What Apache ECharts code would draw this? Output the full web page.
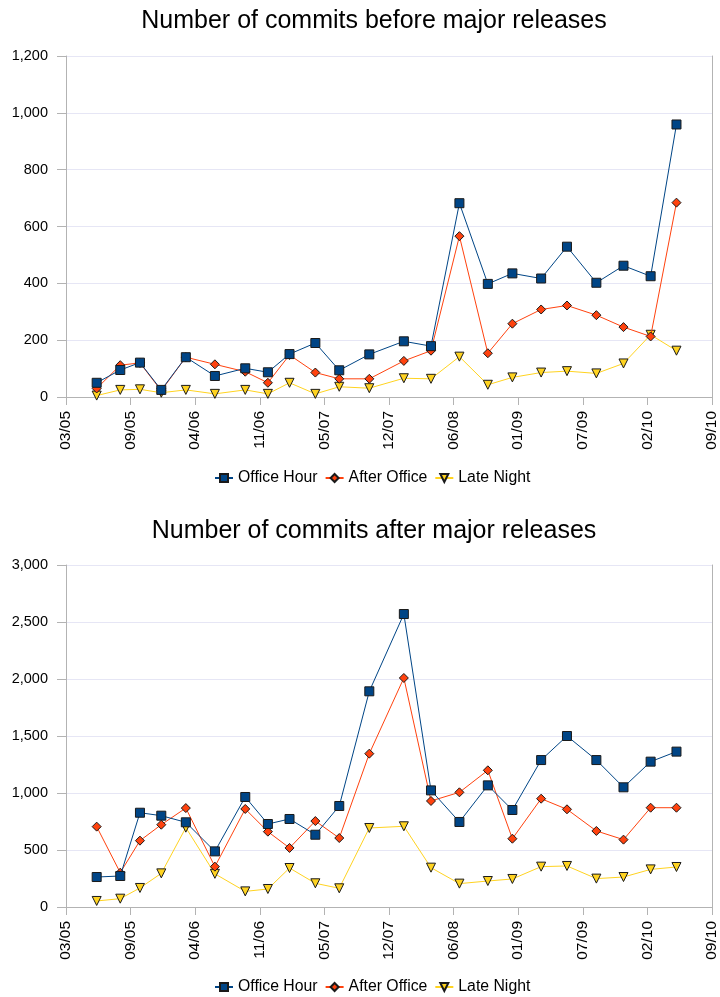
<!DOCTYPE html>
<html>
<head>
<meta charset="utf-8">
<script src="https://cdn.jsdelivr.net/npm/echarts@6/dist/echarts.min.js"></script>
<style>
  html, body { margin: 0; padding: 0; background: #fff; }
  #chart { width: 720px; height: 997px; }
</style>
</head>
<body>
<div id="chart"></div>
<script>
// Release dates (x positions) shared by both panels
const releaseDates = [
  '2005-06-15', '2005-08-27', '2005-10-27', '2006-01-01', '2006-03-18',
  '2006-06-16', '2006-09-18', '2006-11-27', '2007-02-02', '2007-04-23',
  '2007-07-06', '2007-10-07', '2008-01-22', '2008-04-15', '2008-07-12',
  '2008-10-08', '2008-12-23', '2009-03-22', '2009-06-10', '2009-09-09',
  '2009-12-02', '2010-02-24', '2010-05-15'
];

// Date axis: start day, tick step (days) and tick labels
const axisStart = '2005-03-12';
const tickStepDays = 200;
const xTickLabels = ['03/05', '09/05', '04/06', '11/06', '05/07', '12/07',
                     '06/08', '01/09', '07/09', '02/10', '09/10'];

// Commits before major releases
const beforeOffice = [50, 95, 121, 25, 140, 74, 101, 87, 151, 190, 94, 150,
                      196, 179, 682, 398, 435, 417, 529, 402, 462, 425, 959];
const beforeAfter  = [30, 112, 120, 22, 140, 115, 89, 50, 148, 86, 64, 64,
                      127, 163, 566, 154, 258, 308, 322, 288, 246, 213, 684];
const beforeNight  = [5, 25, 27, 15, 25, 11, 25, 11, 50, 11, 36, 31,
                      66, 64, 142, 43, 69, 86, 91, 83, 118, 219, 163];

// Commits after major releases
const afterOffice = [263, 272, 827, 801, 743, 488, 965, 728, 772, 634, 886, 1892,
                     2570, 1023, 746, 1067, 851, 1289, 1500, 1289, 1050, 1275, 1363];
const afterAfter  = [705, 301, 582, 722, 868, 354, 860, 661, 518, 754, 605, 1345,
                     2009, 930, 1006, 1199, 599, 950, 857, 667, 591, 871, 871];
const afterNight  = [53, 73, 167, 295, 696, 291, 137, 158, 342, 208, 164, 693,
                     708, 345, 205, 228, 246, 354, 360, 249, 263, 330, 351];

const seriesNames = ['Office Hour', 'After Office', 'Late Night'];
const seriesColors = ['#004586', '#ff420e', '#ffd320'];

const DAY = 86400000;
const startMs = Date.parse(axisStart + 'T00:00:00Z');
const xDays = releaseDates.map(d => (Date.parse(d + 'T00:00:00Z') - startMs) / DAY);
const xMax = tickStepDays * (xTickLabels.length - 1);

const FONT = '"Liberation Sans", Arial, sans-serif';
const AXIS_GREY = '#b3b3b3';
const GRID_LINE = '#e6e6f5';

const symbols = [
  { symbol: 'rect', symbolSize: 9, symbolRotate: 0 },
  { symbol: 'diamond', symbolSize: 9, symbolRotate: 0 },
  { symbol: 'triangle', symbolSize: 9, symbolRotate: 180 }
];

function makeSeries(values, idx, gridIdx) {
  return {
    name: seriesNames[idx],
    type: 'line',
    xAxisIndex: gridIdx,
    yAxisIndex: gridIdx * 2,
    data: values.map((v, i) => [xDays[i], v]),
    symbol: symbols[idx].symbol,
    symbolSize: symbols[idx].symbolSize,
    symbolRotate: symbols[idx].symbolRotate,
    showAllSymbol: true,
    lineStyle: { color: seriesColors[idx], width: 1 },
    itemStyle: { color: seriesColors[idx], borderColor: '#1a1a1a', borderWidth: 1 },
    emphasis: { disabled: true },
    z: 10 - idx,
    animation: false
  };
}

function xAxisFor(gridIdx) {
  return {
    type: 'value',
    gridIndex: gridIdx,
    min: 0,
    max: xMax,
    interval: tickStepDays,
    axisLine: { show: true, lineStyle: { color: AXIS_GREY, width: 1 } },
    axisTick: { show: true, length: 8, lineStyle: { color: AXIS_GREY } },
    splitLine: { show: false },
    axisLabel: {
      rotate: 90,
      margin: 14,
      color: '#000',
      fontFamily: FONT,
      fontSize: 15.5,
      formatter: v => xTickLabels[Math.round(v / tickStepDays)]
    }
  };
}

function yAxesFor(gridIdx, max, interval) {
  return [{
    type: 'value',
    gridIndex: gridIdx,
    min: 0,
    max: max,
    interval: interval,
    axisLine: { show: true, lineStyle: { color: AXIS_GREY, width: 1 } },
    axisTick: { show: true, length: 9, lineStyle: { color: AXIS_GREY } },
    splitLine: { show: true, lineStyle: { color: GRID_LINE, width: 1 } },
    axisLabel: {
      margin: 18,
      color: '#000',
      fontFamily: FONT,
      fontSize: 14.5,
      formatter: v => v.toLocaleString('en-US')
    }
  }, {
    type: 'value',
    gridIndex: gridIdx,
    position: 'right',
    min: 0,
    max: max,
    interval: interval,
    axisLine: { show: true, lineStyle: { color: AXIS_GREY, width: 1 } },
    axisTick: { show: false },
    axisLabel: { show: false },
    splitLine: { show: false }
  }];
}

const legendBase = {
  left: 214,
  itemWidth: 18,
  itemHeight: 10,
  itemGap: 7,
  padding: 0,
  textStyle: { color: '#000', fontFamily: FONT, fontSize: 15.8 },
  data: seriesNames
};

const titleStyle = { fontFamily: FONT, fontSize: 25, fontWeight: 'normal', color: '#000' };

const chart = echarts.init(document.getElementById('chart'), null, { renderer: 'canvas' });
chart.setOption({
  animation: false,
  backgroundColor: '#fff',
  title: [
    { text: 'Number of commits before major releases', left: 374, top: 9,
      textAlign: 'center', padding: 0, textStyle: titleStyle },
    { text: 'Number of commits after major releases', left: 374, top: 519,
      textAlign: 'center', padding: 0, textStyle: titleStyle }
  ],
  legend: [
    Object.assign({}, legendBase, { top: 470 }),
    Object.assign({}, legendBase, { top: 979 })
  ],
  grid: [
    { left: 66, right: 8, top: 56, height: 341, containLabel: false },
    { left: 66, right: 8, top: 565, height: 342, containLabel: false }
  ],
  xAxis: [xAxisFor(0), xAxisFor(1)],
  yAxis: yAxesFor(0, 1200, 200).concat(yAxesFor(1, 3000, 500)),
  series: [
    makeSeries(beforeOffice, 0, 0),
    makeSeries(beforeAfter, 1, 0),
    makeSeries(beforeNight, 2, 0),
    makeSeries(afterOffice, 0, 1),
    makeSeries(afterAfter, 1, 1),
    makeSeries(afterNight, 2, 1)
  ]
});
</script>
</body>
</html>
